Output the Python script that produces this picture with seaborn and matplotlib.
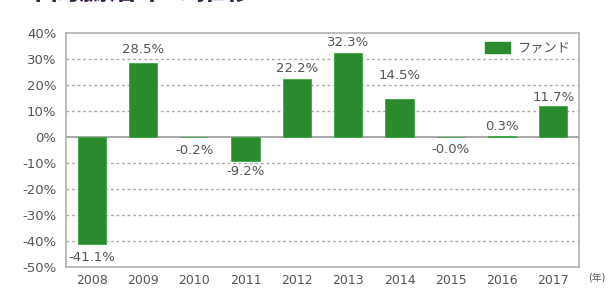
import matplotlib
matplotlib.use("Agg")
import matplotlib.pyplot as plt
import seaborn as sns
import pandas as pd
from matplotlib.patches import Patch

years = ["2008", "2009", "2010", "2011", "2012", "2013", "2014", "2015", "2016", "2017"]
returns = [-41.1, 28.5, -0.2, -9.2, 22.2, 32.3, 14.5, -0.0, 0.3, 11.7]
yticks = [40, 30, 20, 10, 0, -10, -20, -30, -40, -50]
series_name = "ファンド"
title = "年間騰落率の推移"
year_unit = "(年)"

sns.set_theme(style="white")
plt.rcParams['font.family'] = ['DejaVu Sans', 'Noto Sans CJK JP']

W, H = 609, 289
fig = plt.figure(figsize=(W / 100, H / 100), dpi=100)
ax = fig.add_axes([66 / W, 1 - 267 / H, (579 - 66) / W, (267 - 32.6) / H])

df = pd.DataFrame({"year": years, "ret": returns})
green = "#2a8a2e"
sns.barplot(data=df, x="year", y="ret", color=green, width=0.55, ax=ax,
            saturation=1, edgecolor="#3fa843", linewidth=0.6, zorder=3)

ax.set_xlim(-0.5, len(years) - 0.5)
ax.set_ylim(-50, 40)
ax.set_yticks(yticks)
ax.set_yticklabels([f"{t}%" for t in yticks])
ax.set_xlabel("")
ax.set_ylabel("")

for t in yticks:
    if t in (40, -50):
        continue
    if t == 0:
        ax.axhline(0, color="#999999", lw=1.2, zorder=2)
    else:
        ax.axhline(t, color="#aaaaaa", lw=1.0, ls=(0, (2, 2)), zorder=1)

for s in ax.spines.values():
    s.set_color("#b0b0b0")
    s.set_linewidth(1.2)

ax.tick_params(axis="both", length=0, colors="#555555")
ax.tick_params(axis="y", labelsize=9.5, pad=7)
ax.tick_params(axis="x", labelsize=9, pad=5)

# value labels
offsets = [-14, 13, -13, -11, 10, 10, 24, -13, 9, 9]
for i, (v, off) in enumerate(zip(returns, offsets)):
    ax.annotate(f"{v:.1f}%", xy=(i, v), xytext=(0, off * 0.72),
                textcoords="offset points", ha="center", va="center",
                fontsize=9.5, color="#555555", zorder=5)

# legend
ax.legend(handles=[Patch(facecolor=green, edgecolor=green, label=series_name)],
          loc="upper right", bbox_to_anchor=(1.0, 1.0), frameon=False,
          fontsize=9.5, handlelength=1.9, handleheight=0.9, handletextpad=0.5,
          borderaxespad=0.3, labelcolor="#555555")

fig.text(597 / W, 1 - 278 / H, year_unit, fontsize=7, color="#555555",
         ha="center", va="center")

fig.text(22 / W, 1 - 5 / H, title, fontsize=21, fontweight="bold",
         color="#3b2348", ha="left", va="bottom",
         family=['Noto Sans CJK JP', 'DejaVu Sans'])

fig.savefig("out.png", dpi=100)
